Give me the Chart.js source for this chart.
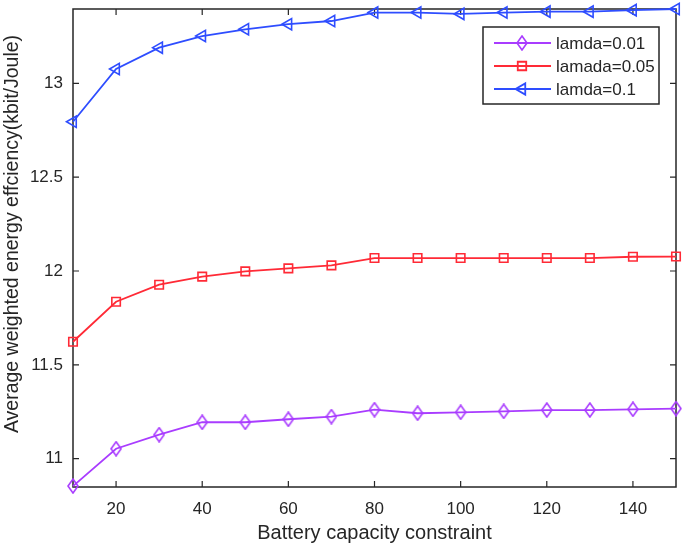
<!DOCTYPE html>
<html>
<head>
<meta charset="utf-8">
<script src="https://cdn.jsdelivr.net/npm/chart.js@4/dist/chart.umd.min.js"></script>
<style>
  html, body { margin: 0; padding: 0; background: #fff; }
  #wrap { width: 685px; height: 549px; }
</style>
</head>
<body>
<div id="wrap"><canvas id="chart" width="685" height="549"></canvas></div>
<script>
// data
var capacity = [10, 20, 30, 40, 50, 60, 70, 80, 90, 100, 110, 120, 130, 140, 150];
var lamda001 = [10.854, 11.053, 11.128, 11.194, 11.194, 11.21, 11.224, 11.261, 11.242, 11.247, 11.252, 11.259, 11.259, 11.263, 11.267];
var lamada005 = [11.623, 11.836, 11.927, 11.97, 11.998, 12.014, 12.03, 12.069, 12.069, 12.069, 12.069, 12.069, 12.069, 12.076, 12.077];
var lamda01 = [12.795, 13.076, 13.19, 13.252, 13.288, 13.315, 13.332, 13.377, 13.377, 13.37, 13.377, 13.382, 13.382, 13.39, 13.396];
var xTicks = [20, 40, 60, 80, 100, 120, 140];
var yTicks = [11, 11.5, 12, 12.5, 13];
var seriesNames = ["lamda=0.01", "lamada=0.05", "lamda=0.1"];
var yTitle = "Average weighted energy effciency(kbit/Joule)";

var FONT = "'Liberation Sans', Arial, sans-serif";
var TXT = "#262626";

function pts(ys) {
  return ys.map(function (y, i) { return { x: capacity[i], y: y }; });
}

// tall thin diamond marker, matlab style
function diamondMarker(color) {
  var c = document.createElement("canvas");
  c.width = 12; c.height = 16;
  var g = c.getContext("2d");
  g.strokeStyle = color;
  g.lineWidth = 1.6;
  g.beginPath();
  g.moveTo(6, 1); g.lineTo(11, 8); g.lineTo(6, 15); g.lineTo(1, 8);
  g.closePath();
  g.stroke();
  return c;
}

// box + inward ticks, like the original plot frame
var framePlugin = {
  id: "frame",
  beforeDatasetsDraw: function (chart) {
    var ctx = chart.ctx, a = chart.chartArea;
    var xs = chart.scales.x, ys = chart.scales.y;
    ctx.save();
    ctx.strokeStyle = "#262626";
    ctx.lineWidth = 1.5;
    ctx.strokeRect(a.left, a.top, a.right - a.left, a.bottom - a.top);
    ctx.lineWidth = 1.2;
    ctx.beginPath();
    xTicks.forEach(function (v) {
      var px = xs.getPixelForValue(v);
      ctx.moveTo(px, a.bottom); ctx.lineTo(px, a.bottom - 6);
      ctx.moveTo(px, a.top); ctx.lineTo(px, a.top + 6);
    });
    yTicks.forEach(function (v) {
      var py = ys.getPixelForValue(v);
      ctx.moveTo(a.left, py); ctx.lineTo(a.left + 6, py);
      ctx.moveTo(a.right, py); ctx.lineTo(a.right - 6, py);
    });
    ctx.stroke();
    // y title sits a bit above the axis centre in the original
    ctx.translate(12.5, 234);
    ctx.rotate(-Math.PI / 2);
    ctx.font = "19.5px " + FONT;
    ctx.fillStyle = TXT;
    ctx.textAlign = "center";
    ctx.textBaseline = "middle";
    ctx.fillText(yTitle, 0, 0);
    ctx.restore();
  },
  afterDraw: function (chart) {
    // legend box inside the plot, top right
    var ctx = chart.ctx;
    var bx = 483, by = 27, bw = 176, bh = 77;
    ctx.save();
    ctx.fillStyle = "#fff";
    ctx.fillRect(bx, by, bw, bh);
    ctx.strokeStyle = "#262626";
    ctx.lineWidth = 1.5;
    ctx.strokeRect(bx, by, bw, bh);
    ctx.font = "17px " + FONT;
    ctx.textBaseline = "middle";
    chart.data.datasets.forEach(function (ds, i) {
      var y = by + 16 + i * 23;
      ctx.strokeStyle = ds.borderColor;
      ctx.lineWidth = ds.borderWidth;
      ctx.beginPath();
      ctx.moveTo(bx + 11, y);
      ctx.lineTo(bx + 68, y);
      ctx.stroke();
      ctx.strokeStyle = ds.pointBorderColor;
      ctx.fillStyle = "rgba(0,0,0,0)";
      Chart.helpers.drawPoint(ctx, {
        pointStyle: ds.pointStyle,
        rotation: ds.pointRotation || 0,
        radius: ds.pointRadius,
        borderWidth: ds.pointBorderWidth
      }, bx + 39, y);
      ctx.fillStyle = TXT;
      ctx.fillText(seriesNames[i], bx + 73, y + 1);
    });
    ctx.restore();
  }
};

function series(label, ys, color, style, radius, rot) {
  return {
    label: label,
    data: pts(ys),
    borderColor: color,
    backgroundColor: "rgba(0,0,0,0)",
    borderWidth: 1.8,
    pointStyle: style,
    pointRadius: radius,
    pointRotation: rot,
    pointBorderColor: color,
    pointBackgroundColor: "rgba(0,0,0,0)",
    pointBorderWidth: 1.6,
    tension: 0,
    clip: false
  };
}

var ctx = document.getElementById("chart").getContext("2d");
new Chart(ctx, {
  type: "line",
  data: {
    datasets: [
      series(seriesNames[0], lamda001, "#a93cff", diamondMarker("#a93cff"), 6, 0),
      series(seriesNames[1], lamada005, "#ff2a36", "rect", 6, 0),
      series(seriesNames[2], lamda01, "#2e4dff", "triangle", 6.5, -90)
    ]
  },
  options: {
    responsive: false,
    animation: false,
    layout: { padding: { top: 9, right: 9, left: 0, bottom: 0 } },
    plugins: {
      legend: { display: false },
      tooltip: { enabled: false }
    },
    scales: {
      x: {
        type: "linear",
        min: 10,
        max: 150,
        grid: { display: false, drawTicks: false },
        border: { display: false },
        afterBuildTicks: function (scale) {
          scale.ticks = xTicks.map(function (v) { return { value: v }; });
        },
        afterFit: function (scale) {
          scale.height = 62;
          scale.paddingLeft = 0;
          scale.paddingRight = 0;
        },
        ticks: {
          padding: 12,
          color: TXT,
          font: { size: 17, family: FONT },
          callback: function (v) { return String(v); }
        },
        title: {
          display: true,
          text: "Battery capacity constraint",
          color: TXT,
          font: { size: 20, family: FONT },
          padding: { top: 0, bottom: 4 }
        }
      },
      y: {
        type: "linear",
        min: 10.849,
        max: 13.396,
        grid: { display: false, drawTicks: false },
        border: { display: false },
        afterBuildTicks: function (scale) {
          scale.ticks = yTicks.map(function (v) { return { value: v }; });
        },
        afterFit: function (scale) {
          scale.width = 73;
          scale.paddingTop = 0;
          scale.paddingBottom = 0;
        },
        ticks: {
          padding: 10,
          color: TXT,
          font: { size: 17, family: FONT },
          callback: function (v) { return String(v); }
        },
        title: { display: false }
      }
    }
  },
  plugins: [framePlugin]
});
</script>
</body>
</html>
